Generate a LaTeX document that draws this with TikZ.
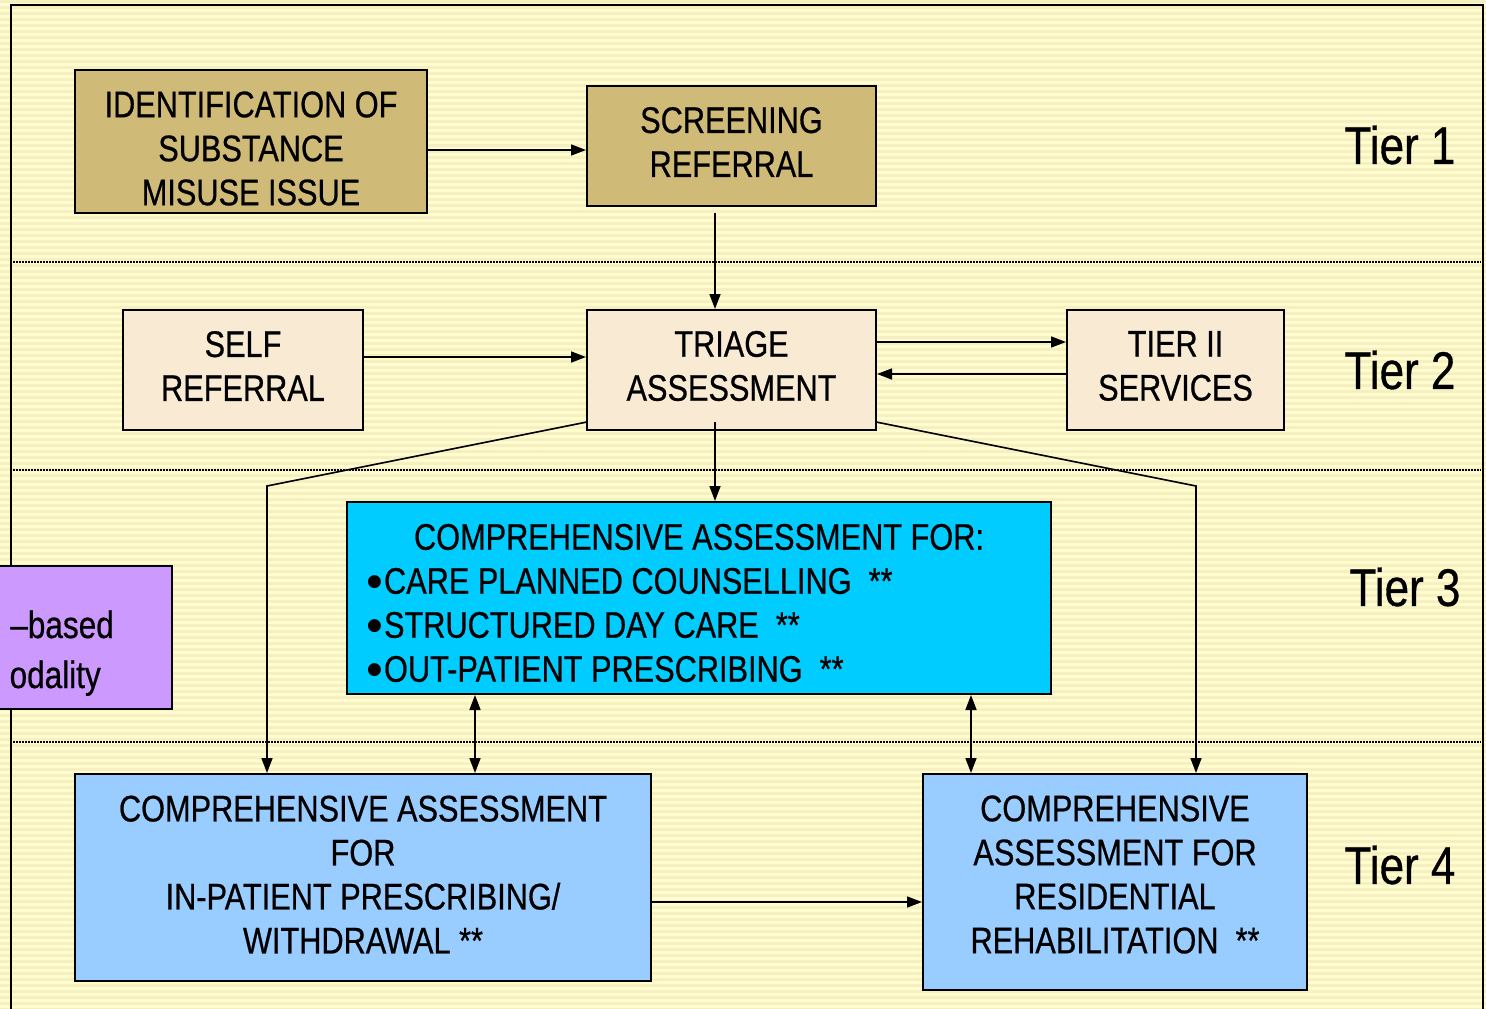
\documentclass[tikz,border=0pt]{standalone}
\usepackage{fontspec}
\setmainfont{Liberation Sans}[FakeStretch=0.83,FakeBold=0.6]
\newfontfamily\symfont{DejaVu Sans}
\usetikzlibrary{arrows.meta}
\definecolor{bgbase}{HTML}{FFFCCD}
\definecolor{bgstripe}{HTML}{F6EFC2}
\definecolor{tan}{HTML}{CFBA78}
\definecolor{beige}{HTML}{F8EAD3}
\definecolor{cyanbox}{HTML}{00CCFF}
\definecolor{bluebox}{HTML}{99CCFF}
\definecolor{purplebox}{HTML}{CC99FF}
\newcommand{\bigbul}{\raisebox{7.5pt}{\symfont\fontsize{17}{17}\selectfont ●}\hspace{2pt}}
\tikzset{
  box/.style={draw=black, line width=2pt, rectangle, inner sep=0pt},
  txt/.style={align=center, font=\fontsize{37}{44}\selectfont, inner sep=0pt},
  tier/.style={font=\fontsize{53}{60}\selectfont, inner sep=0pt},
  conn/.style={line width=1.6pt, -{Triangle[length=15pt,width=11pt]}},
  dconn/.style={line width=1.6pt, {Triangle[length=15pt,width=11pt]}-{Triangle[length=15pt,width=11pt]}},
  sep/.style={line width=1.2pt, dash pattern=on 1.5pt off 1.5pt}
}
\begin{document}
\begin{tikzpicture}[x=1pt,y=-1pt]
\useasboundingbox (0,0) rectangle (1486,1009);
\begin{scope}
\clip (0,0) rectangle (1486,1009);
\fill[bgbase] (0,0) rectangle (1486,1009);
\foreach \k in {0,...,168} {
  \fill[bgstripe] (0,{\k*6}) rectangle (1486,{\k*6+3});
}
% frame
\draw[line width=2pt] (11,1012) -- (11,5) -- (1483,5) -- (1483,1012);
% separators
\draw[sep] (13,262) -- (1481,262);
\draw[sep] (13,470) -- (1481,470);
\draw[sep] (13,742) -- (1481,742);

% boxes
\node[box, fill=tan, minimum width=352, minimum height=143] (id) at (251,141.5) {};
\node[txt] (idt) at (251,148.5) {IDENTIFICATION OF\\SUBSTANCE\\MISUSE ISSUE};
\node[box, fill=tan, minimum width=289, minimum height=120] (scr) at (731.5,146) {};
\node[txt] (scrt) at (731.5,142) {SCREENING\\REFERRAL};
\node[box, fill=beige, minimum width=240, minimum height=120] (self) at (243,370) {};
\node[txt] (selft) at (243,366) {SELF\\REFERRAL};
\node[box, fill=beige, minimum width=289, minimum height=120] (tri) at (731.5,370) {};
\node[txt] (trit) at (731.5,366) {TRIAGE\\ASSESSMENT};
\node[box, fill=beige, minimum width=217, minimum height=120] (t2) at (1175.5,370) {};
\node[txt] (t2t) at (1175.5,366) {TIER II\\SERVICES};
\node[box, fill=cyanbox, minimum width=704, minimum height=192] (comp) at (699,598) {};
\node[txt] (compt) at (699,537) {COMPREHENSIVE ASSESSMENT FOR:};
\node[txt, align=left, anchor=west] (compl) at (367,625) {\bigbul CARE PLANNED COUNSELLING\ \ **\\\bigbul STRUCTURED DAY CARE\ \ **\\\bigbul OUT-PATIENT PRESCRIBING\ \ **};
\node[box, fill=purplebox, minimum width=252, minimum height=143] (pur) at (46,637.5) {};
\node[txt, font=\fontsize{38}{44}\selectfont, anchor=base east] (purt1) at (114,638) {–based};
\node[txt, font=\fontsize{38}{44}\selectfont, anchor=base east] (purt2) at (101,688) {odality};
\node[box, fill=bluebox, minimum width=576, minimum height=207] (inp) at (363,877.5) {};
\node[txt] (inpt) at (363,874.5) {COMPREHENSIVE ASSESSMENT\\FOR\\IN-PATIENT PRESCRIBING/\\WITHDRAWAL **};
\node[box, fill=bluebox, minimum width=384, minimum height=216] (res) at (1115,882) {};
\node[txt] (rest) at (1115,874.5) {COMPREHENSIVE\\ASSESSMENT FOR\\RESIDENTIAL\\REHABILITATION\ \ **};

% tier labels
\node[tier] (tier1) at (1400,145) {Tier 1};
\node[tier] (tier2) at (1400,370) {Tier 2};
\node[tier] (tier3) at (1405,587) {Tier 3};
\node[tier] (tier4) at (1400,865) {Tier 4};

% connectors
\coordinate (scrb) at (715,213);
\coordinate (trib) at (715,422);
\coordinate (tribl) at (587,422);
\coordinate (tribr) at (876,422);
\draw[conn] (id.east |- 0,150) -- (scr.west |- 0,150);
\draw[conn] (scrb) -- (tri.north -| scrb);
\draw[conn] (self.east |- 0,357) -- (tri.west |- 0,357);
\draw[conn] (tri.east |- 0,342) -- (t2.west |- 0,342);
\draw[conn] (t2.west |- 0,374) -- (tri.east |- 0,374);
\draw[conn] (trib) -- (comp.north -| trib);
\draw[conn] (tribl) -- (267,486) -- (inp.north -| 267,0);
\draw[conn] (tribr) -- (1196,486) -- (res.north -| 1196,0);
\draw[dconn] (comp.south -| 475,0) -- (inp.north -| 475,0);
\draw[dconn] (comp.south -| 971,0) -- (res.north -| 971,0);
\draw[conn] (inp.east |- 0,902) -- (res.west |- 0,902);
\end{scope}
\end{tikzpicture}
\end{document}
